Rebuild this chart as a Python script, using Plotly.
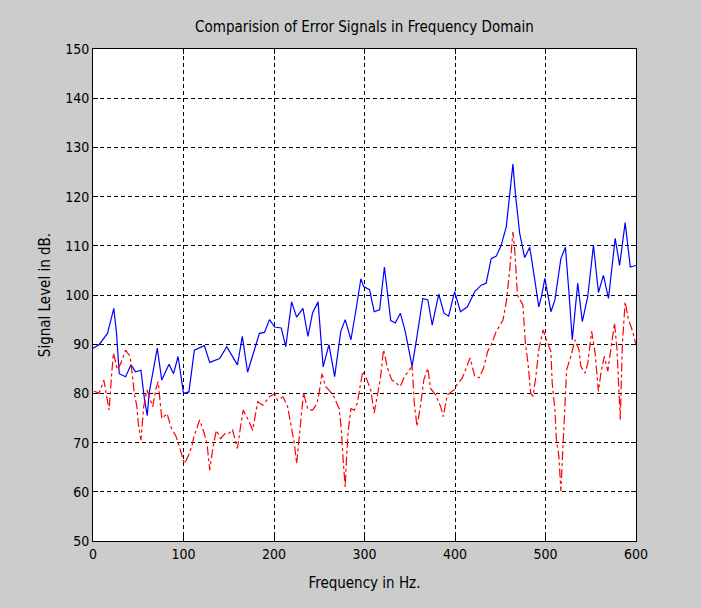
import plotly.graph_objects as go

# Blue (solid) error signal
blue_f = [0, 6.7, 16, 23, 26, 29, 36, 42, 47, 53, 57, 60, 62, 71, 76, 84, 89, 94, 100, 106,
          112, 123, 129, 140, 147.8, 159.6, 165, 170.8, 183.9, 189.5, 195, 200.7, 208, 213,
          219.5, 225, 232, 237.5, 242.7, 248.7, 254.3, 260.7, 267, 273.8, 278.7, 285, 290.6,
          296, 299, 305.6, 310.7, 316.7, 322, 329, 334, 339.6, 345, 352.6, 358, 364.4, 370,
          374.8, 382, 387.8, 393, 399.6, 406, 413.7, 421.9, 428.9, 434.4, 440, 445.6, 451,
          456.7, 461.5, 464, 466.7, 471.5, 477, 482.6, 487.4, 492.6, 495.6, 499.3, 506,
          510.4, 517, 522, 526, 529.6, 535.6, 540.7, 546.7, 553, 558.5, 564, 569.6, 577,
          581.9, 588, 593.7, 600]
blue_db = [89.2, 89.9, 92.2, 97.3, 92.2, 84.0, 83.4, 85.8, 84.4, 84.7, 78.6, 75.5, 80.0, 89.2,
           82.7, 85.9, 84.0, 87.5, 80.0, 80.3, 88.8, 89.7, 86.3, 87.1, 89.5, 85.8, 91.6, 84.3,
           92.2, 92.4, 95.0, 93.5, 93.3, 89.5, 98.6, 95.5, 97.3, 91.6, 96.4, 98.6, 85.4, 89.9,
           83.4, 92.6, 95.0, 90.9, 97.0, 103.3, 101.7, 101.1, 96.6, 97.0, 105.7, 94.8, 94.3,
           96.3, 92.6, 85.5, 91.6, 99.3, 99.0, 93.9, 100.2, 96.3, 95.7, 100.7, 96.6, 97.6,
           100.7, 102.0, 102.4, 107.4, 107.9, 110.1, 113.9, 122.0, 126.6, 120.6, 112.5,
           107.6, 109.7, 104.0, 97.6, 99.7, 103.4, 96.6, 99.0, 107.4, 109.7, 100.3, 90.9,
           102.4, 94.6, 99.7, 110.1, 100.5, 104.0, 99.3, 111.5, 106.0, 114.7, 105.7, 106.0]

# Red (dash-dot) error signal
red_f = [1, 6.7, 12, 15, 17.8, 20.4, 22.6, 27, 30.7, 36, 41, 43.7, 45.6, 48.5, 50, 53, 56,
         59.6, 62, 66, 69.6, 72, 76, 81.9, 86, 91.9, 96.7, 101, 104.8, 109, 111.5, 117.8, 123,
         126, 129, 132.6, 136.3, 141, 145.6, 150, 154, 159.6, 163, 166, 172.7, 176.4, 182,
         187.6, 195, 200.7, 203.7, 210, 215, 219.5, 222.5, 225, 227.7, 230.7, 232.6, 237.5,
         242.7, 247.6, 250, 253, 257, 262.5, 266.3, 272, 274.5, 276.4, 278.7, 280, 282, 285,
         288.8, 292, 295, 298, 302.6, 307, 310.7, 317.4, 321, 325.5, 330, 339.6, 344, 352.6,
         355, 358, 361.8, 365.6, 370, 373, 378.5, 384, 387, 391.5, 398.9, 403, 408, 413.7,
         416.7, 421.9, 426.7, 431.5, 436, 440, 445.6, 453, 456.7, 460.4, 464, 466, 469, 475,
         477.8, 480.7, 483.7, 486.3, 489.3, 492.6, 497.4, 501, 506, 507.4, 510.4, 512, 514.8,
         517, 518.9, 520.7, 523.3, 528, 532.6, 537, 539, 543.7, 546.7, 551, 554.8, 558.5,
         561.5, 565, 568.9, 572.6, 576.3, 579, 581.5, 582.6, 585, 588, 591.8, 596.3, 600]
red_db = [80.5, 80.0, 82.7, 79.3, 76.6, 83.4, 88.2, 84.8, 86.1, 88.8, 87.5, 83.4, 80.0, 77.3,
          73.9, 70.5, 77.3, 80.7, 79.3, 77.3, 81.0, 82.4, 74.9, 75.9, 73.2, 71.2, 68.4, 65.7,
          67.1, 69.1, 71.2, 74.6, 71.8, 69.8, 64.4, 69.1, 72.5, 70.8, 71.8, 71.8, 72.7, 68.8,
          73.2, 76.6, 74.2, 72.5, 78.3, 77.6, 79.3, 80.0, 78.6, 79.3, 77.3, 73.2, 69.8, 65.7,
          70.5, 77.3, 80.1, 76.7, 76.6, 78.0, 80.3, 84.0, 81.4, 80.3, 79.3, 76.9, 72.5, 66.4,
          61.0, 66.4, 72.5, 76.9, 76.6, 78.0, 81.4, 84.5, 82.8, 80.6, 76.0, 82.8, 88.9, 85.1,
          82.8, 81.4, 83.4, 85.5, 78.0, 73.3, 77.4, 82.8, 85.1, 81.0, 79.7, 77.4, 75.3, 79.7,
          80.7, 82.0, 83.1, 85.8, 87.2, 83.4, 83.2, 85.1, 88.5, 89.9, 92.6, 94.9, 98.6, 105.0,
          112.8, 109.1, 100.0, 98.0, 90.2, 86.1, 80.0, 79.4, 83.4, 88.9, 92.9, 90.9, 88.5,
          82.1, 76.7, 70.6, 67.2, 60.1, 67.2, 76.7, 84.8, 87.5, 90.9, 88.9, 85.5, 84.1, 86.1,
          92.6, 88.2, 80.4, 84.5, 87.5, 84.5, 89.5, 94.3, 88.9, 79.4, 74.7, 90.2, 98.6, 94.9,
          92.6, 89.9]

x_ticks = [0, 100, 200, 300, 400, 500, 600]
y_ticks = [50, 60, 70, 80, 90, 100, 110, 120, 130, 140, 150]

FONT = "DejaVu Sans Condensed, Liberation Sans Narrow, sans-serif"

fig = go.Figure()
fig.add_trace(go.Scatter(x=blue_f, y=blue_db, mode="lines",
                         line=dict(color="#0000ff", width=1.2), showlegend=False))
fig.add_trace(go.Scatter(x=red_f, y=red_db, mode="lines",
                         line=dict(color="#ff0000", width=1.2, dash="dashdot"), showlegend=False))

axis_common = dict(
    showline=True, linecolor="black", linewidth=1, mirror="ticks",
    ticks="inside", ticklen=5, tickcolor="black",
    showgrid=True, gridcolor="black", gridwidth=1, griddash="4px,3px",
    zeroline=False, automargin=False,
    tickfont=dict(family=FONT, size=14, color="black"),
)

fig.update_xaxes(range=[0, 600], tickvals=x_ticks,
                 title=dict(text="Frequency in Hz.", font=dict(family=FONT, size=15, color="black"),
                            standoff=16),
                 **axis_common)
fig.update_yaxes(range=[50, 150], tickvals=y_ticks,
                 title=dict(text="Signal Level in dB.", font=dict(family=FONT, size=15, color="black"),
                            standoff=10),
                 **axis_common)

fig.update_layout(
    width=701, height=608,
    margin=dict(l=93, r=65, t=49, b=67),
    paper_bgcolor="#cccccc", plot_bgcolor="white",
    title=dict(text="Comparision of Error Signals in Frequency Domain",
               font=dict(family=FONT, size=15, color="black"),
               x=(93 + 636) / 2 / 701, xanchor="center", y=1 - 27 / 608, yanchor="middle"),
    font=dict(family=FONT, color="black"),
)

fig.write_html(
    "out.html",
    config={"displayModeBar": False},
    post_script="document.body.style.margin='0';document.body.style.background='#cccccc';",
)
